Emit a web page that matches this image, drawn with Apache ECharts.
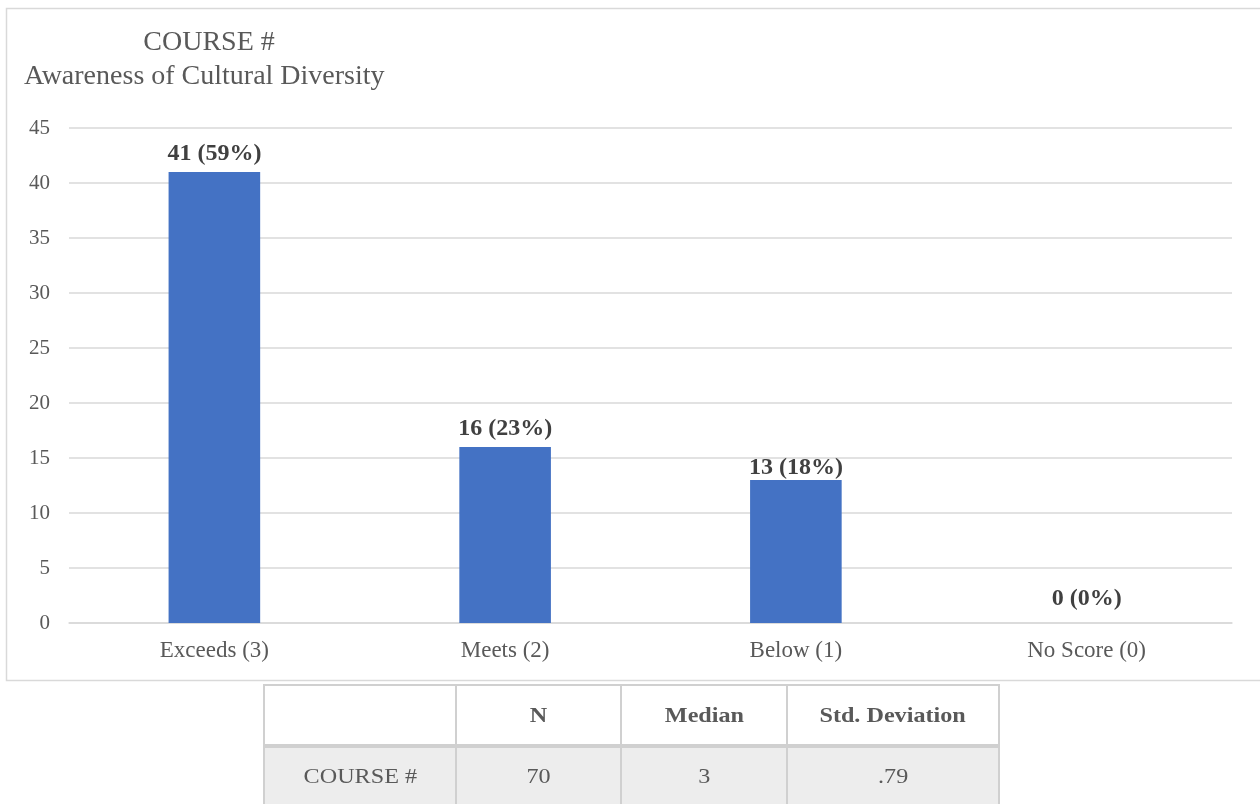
<!DOCTYPE html>
<html><head><meta charset="utf-8">
<script src="https://cdn.jsdelivr.net/npm/echarts@6/dist/echarts.min.js"></script>
<style>
html,body{margin:0;padding:0;background:#fff;}
#c{width:1260px;height:804px;position:absolute;left:0;top:0;}
#t{position:absolute;left:263px;top:684px;border-collapse:collapse;font-family:"Liberation Serif","Times New Roman",serif;color:#595959;font-size:21px;}
#t td{border:2px solid #d0d0d0;text-align:center;padding:0;}
#t span{display:inline-block;transform:scaleX(1.15);}
</style>
</head><body>
<div id="c"></div>
<table id="t"></table>
<script>
const categories = ["Exceeds (3)", "Meets (2)", "Below (1)", "No Score (0)"];
const counts = [41, 16, 13, 0];
const percents = ["59%", "23%", "18%", "0%"];
const titleLines = ["COURSE #", "Awareness of Cultural Diversity"];
const tableHeader = ["", "N", "Median", "Std. Deviation"];
const tableRow = ["COURSE #", "70", "3", ".79"];

const chart = echarts.init(document.getElementById('c'));
chart.setOption({
  animation: false,
  graphic: [
    {type:'rect', shape:{x:6.5,y:8.5,width:1260,height:672}, style:{fill:'none',stroke:'#d9d9d9',lineWidth:1.5}, z:-1}
  ],
  title: [
    {text: titleLines[0], left: 204, top: 24, textAlign:'center',
     textStyle:{fontFamily:'Liberation Serif', fontSize:28, fontWeight:'normal', color:'#595959'}},
    {text: titleLines[1], left: 19, top: 58,
     textStyle:{fontFamily:'Liberation Serif', fontSize:28, fontWeight:'normal', color:'#595959'}}
  ],
  grid: {left: 69, right: 28, top: 128, bottom: 181, containLabel:false},
  xAxis: {
    type:'category', data: categories,
    axisLine:{show:true, lineStyle:{color:'#d9d9d9', width:1.5}},
    axisTick:{show:false},
    axisLabel:{fontFamily:'Liberation Serif', fontSize:23, color:'#595959', margin:16}
  },
  yAxis: {
    type:'value', min:0, max:45, interval:5,
    axisLine:{show:false}, axisTick:{show:false},
    splitLine:{lineStyle:{color:'#d9d9d9', width:1.5}},
    axisLabel:{fontFamily:'Liberation Serif', fontSize:21, color:'#595959', margin:19, align:'right'}
  },
  series: [{
    type:'bar', barWidth:'31.5%',
    data: counts.map((v,i)=>({value:v, label:{distance: v===0 ? 12 : (i===2 ? 0 : 6)}})),
    itemStyle:{color:'#4472c4'},
    label:{show:true, position:'top', fontFamily:'Liberation Serif', fontSize:24, fontWeight:'bold', color:'#404040',
      formatter: p => p.value + ' (' + percents[p.dataIndex] + ')'}
  }]
});

const widths = [192, 165, 166, 212];
const t = document.getElementById('t');
const r1 = document.createElement('tr');
tableHeader.forEach((h,i)=>{const td=document.createElement('td');const s=document.createElement('span');s.textContent=h;td.appendChild(s);td.style.width=(widths[i]-2)+'px';td.style.height='58px';td.style.fontWeight='bold';td.style.borderBottom='4px solid #d0d0d0';r1.appendChild(td);});
t.appendChild(r1);
const r2 = document.createElement('tr');
tableRow.forEach((h,i)=>{const td=document.createElement('td');const s=document.createElement('span');s.textContent=h;td.appendChild(s);td.style.height='56px';td.style.background='#ededed';r2.appendChild(td);});
t.appendChild(r2);
</script>
</body></html>
